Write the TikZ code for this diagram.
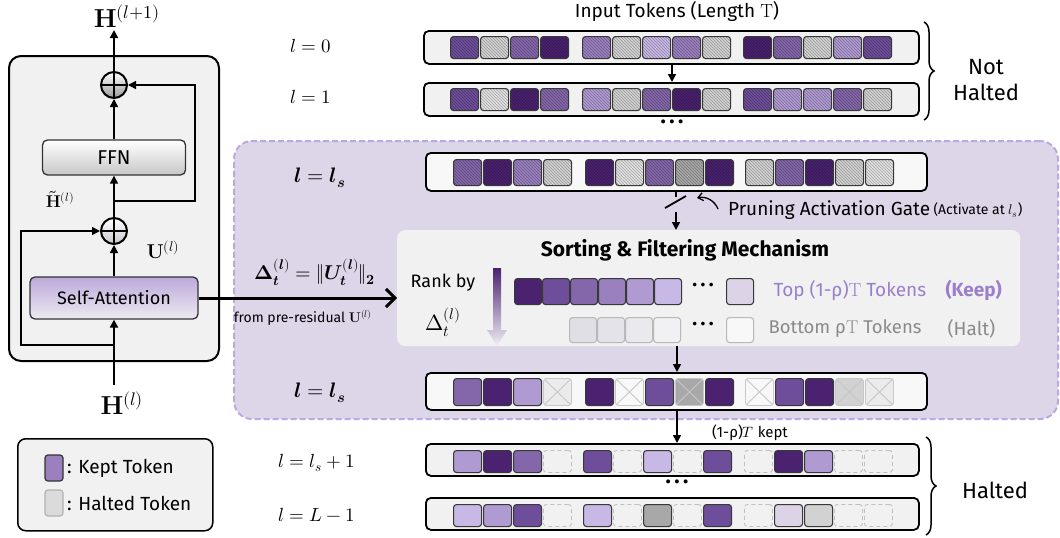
\documentclass[tikz,border=0pt]{standalone}
\usepackage{amsmath}
\usepackage{fontspec}
\usepackage{unicode-math}
\setmathfont{Latin Modern Math}
\setsansfont{Fira Sans}
\usetikzlibrary{patterns,arrows.meta,decorations.pathreplacing,calc}
\definecolor{P1}{HTML}{4A2270}
\definecolor{P2}{HTML}{6E4E9A}
\definecolor{P3}{HTML}{8467AA}
\definecolor{P4}{HTML}{9A80BE}
\definecolor{P5}{HTML}{B09AD2}
\definecolor{P6}{HTML}{C8B8E6}
\definecolor{P7}{HTML}{DCD4E6}
\definecolor{GA}{HTML}{D2D2D2}
\definecolor{GB}{HTML}{A8A8A8}
\definecolor{GC}{HTML}{E2E2E2}
\definecolor{GX}{HTML}{EBEBEB}
\definecolor{WX}{HTML}{F8F8F8}
\definecolor{HA}{HTML}{E0DFE6}
\definecolor{HB}{HTML}{E4E3E9}
\definecolor{HC}{HTML}{EAEAEE}
\definecolor{HD}{HTML}{F1F1F3}
\definecolor{barfill}{HTML}{F1F1F1}
\definecolor{regfill}{HTML}{DDD6E8}
\definecolor{regline}{HTML}{BBAAE2}
\definecolor{keeptext}{HTML}{9B7FCB}
\definecolor{halttext}{HTML}{8A8A8A}
\newcommand\tkw{28}
\newcommand\tkh{22}
\newcommand\tky{0}
\newcommand\rn{A}
\newcommand\fsz[1]{\fontsize{#1}{#1}\selectfont}
\newcommand\tdots{.\hspace{3.5pt}.\hspace{3.5pt}.}
\newcommand\tkH[2]{\node[tokbase, minimum height=\tkh, preaction={fill=#2}, pattern=north west lines, pattern color=#2!72!black] (\rn-#1) at (#1,\tky) {};}
\newcommand\tkS[2]{\node[tokbase, minimum height=\tkh, fill=#2] (\rn-#1) at (#1,\tky) {};}
\newcommand\tkL[2]{\node[tokbase, draw=black!28, minimum height=\tkh, fill=#2] (\rn-#1) at (#1,\tky) {};}
\newcommand\tkX[2]{\node[tokbase, draw=black!22, line width=0.9, minimum height=\tkh, fill=#2] (\rn-#1) at (#1,\tky) {};
  \draw[black!22, line width=0.9, shorten >=1.5, shorten <=1.5] (\rn-#1.north west) -- (\rn-#1.south east);
  \draw[black!22, line width=0.9, shorten >=1.5, shorten <=1.5] (\rn-#1.north east) -- (\rn-#1.south west);}
\newcommand\tkD[2]{\node[tokbase, draw=black!25, dashed, dash pattern=on 4 off 3, line width=0.9, minimum height=\tkh] (\rn-#1) at (#1,\tky) {};}
\begin{document}
\begin{tikzpicture}[x=1pt,y=-1pt, font=\sffamily\fsz{18},
  arr/.style={line width=1.6, -{Triangle[length=8,width=8]}},
  bar/.style={draw=black, line width=1.8, rounded corners=5, fill=barfill, anchor=north west, inner sep=0},
  tokbase/.style={anchor=north west, inner sep=0, minimum width=\tkw, rounded corners=3, draw=black!78, line width=1.1},
  addc/.style={circle, draw=black, line width=2, minimum size=26, inner sep=0, top color=white, bottom color=black!40},
  lbl/.style={inner sep=1},
  dots/.style={font=\sffamily\bfseries\fsz{22}, inner sep=1},
]
\useasboundingbox (0,0) rectangle (1060,538);
\fill[white] (0,0) rectangle (1060,538);

% ---------------- purple region ----------------
\node[draw=regline, dashed, dash pattern=on 6 off 3, line width=2, rounded corners=18, fill=regfill,
      minimum width=824, minimum height=278, anchor=north west, inner sep=0] (reg) at (233,140) {};

% ---------------- left block ----------------
\node[draw, line width=2, rounded corners=12, fill=barfill, minimum width=210, minimum height=305, anchor=north west, inner sep=0] (blk) at (8,55) {};
\node[addc] (add2) at (114,85) {};
\draw[line width=1.6] (add2.north) -- (add2.south) (add2.west) -- (add2.east);
\node[addc, bottom color=P5!45!black!30] (add1) at (114,231) {};
\draw[line width=1.6] (add1.north) -- (add1.south) (add1.west) -- (add1.east);
\node[draw=black!80, line width=1.3, rounded corners=5, top color=white, bottom color=black!22, minimum width=143, minimum height=35, inner sep=0, font=\sffamily\fsz{20}] (ffn) at (114,157.5) {FFN};
\node[draw=black!80, line width=1.3, rounded corners=5, top color=P5!85!white, bottom color=P7!50!white, minimum width=168, minimum height=42, inner sep=0, font=\sffamily\fsz{18}] (sa) at (114,298) {Self-Attention};
\node[lbl, font=\fsz{26}] (hout) at (127,16) {$\mathbf{H}^{(l+1)}$};
\node[lbl, font=\fsz{26}] (hin) at (122,403) {$\mathbf{H}^{(l)}$};
\node[lbl, inner sep=0, font=\fsz{17}] (ht) at (60,199) {$\tilde{\mathbf{H}}^{(l)}$};
\node[lbl, font=\fsz{20}] (ul) at (163,250) {$\mathbf{U}^{(l)}$};
\coordinate (hto) at (114,30);
\coordinate (hfrom) at (114,385);
\draw[arr, line width=2] (add2.north) -- (hto);
\draw[arr] (ffn.north) -- (add2.south);
\draw[arr] (add1.north) -- (ffn.south);
\draw[arr] (sa.north) -- (add1.south);
\draw[arr, line width=2] (hfrom) -- (sa.south);
\coordinate (rl) at (114,345);
\coordinate (rr) at (114,201);
\draw[arr] (rl) -- (21,345) -- (21,231) -- (add1.west);
\draw[arr] (rr) -- (195,201) -- (195,85) -- (add2.east);

% ---------------- legend ----------------
\node[draw, line width=1.5, rounded corners=8, fill=barfill, minimum width=195, minimum height=92, anchor=north west, inner sep=0] (leg) at (17,438) {};
\node[draw=black!80, line width=1.2, rounded corners=3, fill=P4, minimum width=18, minimum height=26, inner sep=0] (lk) at (54,468) {};
\node[draw=black!30, line width=1.2, rounded corners=3, fill=GA!80!white, minimum width=18, minimum height=26, inner sep=0] (lh) at (54,503) {};
\node[anchor=west, font=\sffamily\fsz{19}] (lkt) at (lk.east) {: Kept Token};
\node[anchor=west, font=\sffamily\fsz{19}] (lht) at (lh.east) {: Halted Token};

% ---------------- top rows ----------------
\node[font=\sffamily\fsz{19}] (intitle) at (677,11) {Input Tokens (Length $\mathrm{T}$)};
\node[lbl, font=\fsz{19}] (l0) at (311,46) {$l=0$};
\node[lbl, font=\fsz{19}] (l1) at (311,97) {$l=1$};
\node[bar, minimum width=495, minimum height=33] (barA) at (423,30) {};
\node[bar, minimum width=495, minimum height=33] (barB) at (423,82) {};
\renewcommand\rn{A}\renewcommand\tky{36}\renewcommand\tkh{22}
\foreach \x/\m/\c in {450/H/P2,480/H/GA,510/H/P3,540/H/P1,582/H/P4,612/H/GA,642/H/P6,672/H/P4,702/H/GA,743/H/P1,773/H/P3,803/H/GA,833/H/P5,863/H/P2}{\csname tk\m\endcsname{\x}{\c}}
\renewcommand\rn{B}\renewcommand\tky{88}
\foreach \x/\m/\c in {450/H/P2,480/H/GC,510/H/P1,540/H/P3,582/H/P5,612/H/GA,642/H/P3,672/H/P1,702/H/GA,743/H/P2,773/H/P5,803/H/P5,833/H/P3,863/H/GA}{\csname tk\m\endcsname{\x}{\c}}
\coordinate (axa) at (672,0);
\draw[arr] (barA.south -| axa) -- (barB.north -| axa);
\node[dots] (dA) at (672,122) {\tdots};
\draw[decorate, decoration={brace, amplitude=10}, line width=1.5] (924,22) -- (924,120) coordinate[midway] (bmA);
\node[align=center, font=\sffamily\fontsize{22}{26}\selectfont] (nh) at (986,80) {Not\\Halted};

% ---------------- l = l_s (top) ----------------
\node[lbl, font=\fsz{21}] (ls1) at (320,178) {$\symbfit{l}=\symbfit{l}_{\symbfit{s}}$};
\node[bar, fill=WX, minimum width=501, minimum height=38] (barC) at (425,152) {};
\renewcommand\rn{C}\renewcommand\tky{159}\renewcommand\tkh{26}
\foreach \x/\m/\c in {453/H/P3,483/H/P1,513/H/P4,543/H/GA,585/H/P1,615/H/GC,645/H/P3,675/H/GB,705/H/P1,745/H/GA,775/H/P3,805/H/P1,835/H/GA,865/H/GC}{\csname tk\m\endcsname{\x}{\c}}

% gate
\coordinate (g0) at (676,197);
\coordinate (g1) at (676,212);
\draw[line width=1.6] (barC.south -| g0) -- (g0);
\draw[line width=1.8] (665,208) -- (686,196);
\node[anchor=west, inner sep=1, font=\sffamily\fsz{19}] (pag) at (727,210) {Pruning Activation Gate};
\node[anchor=west, inner sep=2, font=\sffamily\fsz{14}] (act) at (pag.east) {(Activate at $l_s$)};
\coordinate (c1) at (718,209);
\coordinate (c2) at (697,198);
\draw[line width=1.3, -{Straight Barb[length=5,width=8]}] (c1) to[bend right=40] (c2);

% ---------------- sorting box ----------------
\node[fill=barfill, rounded corners=8, minimum width=623, minimum height=116, anchor=north west, inner sep=0] (sort) at (397,230) {};
\draw[arr] (g1) -- (sort.north -| g1);
\node[font=\sffamily\bfseries\fsz{21}] (stitle) at (685,250) {Sorting \& Filtering Mechanism};
\node (rank) at (443,283) {Rank by};
\node[font=\fsz{22}] (rd) at (443,322) {$\Delta_t^{(l)}$};
\shade[top color=P1, bottom color=P7!40!white] (493,268) -- (501,268) -- (501,330) -- (507,330) -- (497,346) -- (487,330) -- (493,330) -- cycle;
\renewcommand\rn{K}\renewcommand\tky{278}\renewcommand\tkh{26}\renewcommand\tkw{27}
\foreach \x/\m/\c in {514/S/P1,542/S/P2,570/S/P3,598/S/P4,626/S/P5,654/S/P6,726/S/P7}{\csname tk\m\endcsname{\x}{\c}}
\renewcommand\rn{Q}\renewcommand\tky{317}\renewcommand\tkh{25}
\foreach \x/\m/\c in {569/L/HA,597/L/HB,625/L/HC,653/L/HD,726/L/WX}{\csname tk\m\endcsname{\x}{\c}}
\renewcommand\tkw{28}
\node[dots, font=\sffamily\bfseries\fsz{20}] (dk) at (703,285) {\tdots};
\node[dots, font=\sffamily\bfseries\fsz{20}] (dq) at (703,324) {\tdots};
\node[anchor=west, text=keeptext, font=\sffamily\fsz{19}] (topt) at (770,290) {Top (1-ρ)$\mathrm{T}$ Tokens};
\node[anchor=west, text=keeptext, font=\sffamily\bfseries\fsz{19}] (keep) at (942,290) {(Keep)};
\node[anchor=west, text=halttext, font=\sffamily\fsz{18.5}] (bott) at (765,329) {Bottom ρ$\mathrm{T}$ Tokens};
\node[anchor=west, text=halttext, font=\sffamily\fsz{19}] (halt) at (944,329) {(Halt)};

% arrow from self-attention
\draw[line width=3, -{Straight Barb[length=9,width=18,line width=3]}] (sa.east) -- (sa.east -| sort.west);
\node[lbl, font=\fsz{20}] (dl) at (315,272) {$\symbf{\Delta}_{\symbfit{t}}^{(\symbfit{l})} = \|\symbfit{U}_{\symbfit{t}}^{(\symbfit{l})}\|_{\symbf{2}}$};
\node[lbl, font=\sffamily\fsz{14}] (pr) at (303,318) {from pre-residual $\mathbf{U}^{(l)}$};

% ---------------- l = l_s (bottom) ----------------
\node[lbl, font=\fsz{21}] (ls2) at (320,393) {$\symbfit{l}=\symbfit{l}_{\symbfit{s}}$};
\node[bar, fill=WX, minimum width=501, minimum height=37] (barD) at (425,372) {};
\renewcommand\rn{D}\renewcommand\tky{378}\renewcommand\tkh{27}
\foreach \x/\m/\c in {453/S/P3,483/S/P1,513/S/P5,543/X/GX,585/S/P1,615/X/WX,645/S/P2,675/X/GB,705/S/P1,745/X/WX,775/S/P2,805/S/P1,835/X/GA,865/X/GX}{\csname tk\m\endcsname{\x}{\c}}
\coordinate (axb) at (677,0);
\draw[arr] (sort.south -| axb) -- (barD.north -| axb);

% ---------------- halted rows ----------------
\node[lbl, font=\fsz{19}] (lsp) at (317,463) {$l=l_s+1$};
\node[lbl, font=\fsz{19}] (lL) at (317,515) {$l=L-1$};
\node[bar, minimum width=493, minimum height=32] (barE) at (425,443) {};
\node[bar, minimum width=493, minimum height=32] (barF) at (425,497) {};
\renewcommand\rn{E}\renewcommand\tky{450}\renewcommand\tkh{22}
\foreach \x/\m/\c in {453/S/P5,483/S/P1,513/S/P3,543/D/none,583/S/P2,613/D/none,643/S/P6,673/D/none,703/S/P2,744/D/none,774/S/P1,804/S/P5,834/D/none,864/D/none}{\csname tk\m\endcsname{\x}{\c}}
\renewcommand\rn{F}\renewcommand\tky{504}\renewcommand\tkh{22}
\foreach \x/\m/\c in {453/S/P6,483/S/P5,513/S/P2,543/D/none,583/S/P6,613/D/none,643/S/GB,673/D/none,703/S/P2,744/D/none,774/S/P7,804/S/GA,834/D/none,864/D/none}{\csname tk\m\endcsname{\x}{\c}}
\draw[arr] (barD.south -| axb) -- (barE.north -| axb);
\node[font=\sffamily\fsz{15}] (kept) at (750,433) {(1-ρ)$T$ kept};
\node[dots] (dE) at (677,482) {\tdots};
\draw[decorate, decoration={brace, amplitude=10}, line width=1.5] (926,437) -- (926,535) coordinate[midway] (bmB);
\node[font=\sffamily\fsz{22}] (hl) at (995,490) {Halted};
\end{tikzpicture}
\end{document}
